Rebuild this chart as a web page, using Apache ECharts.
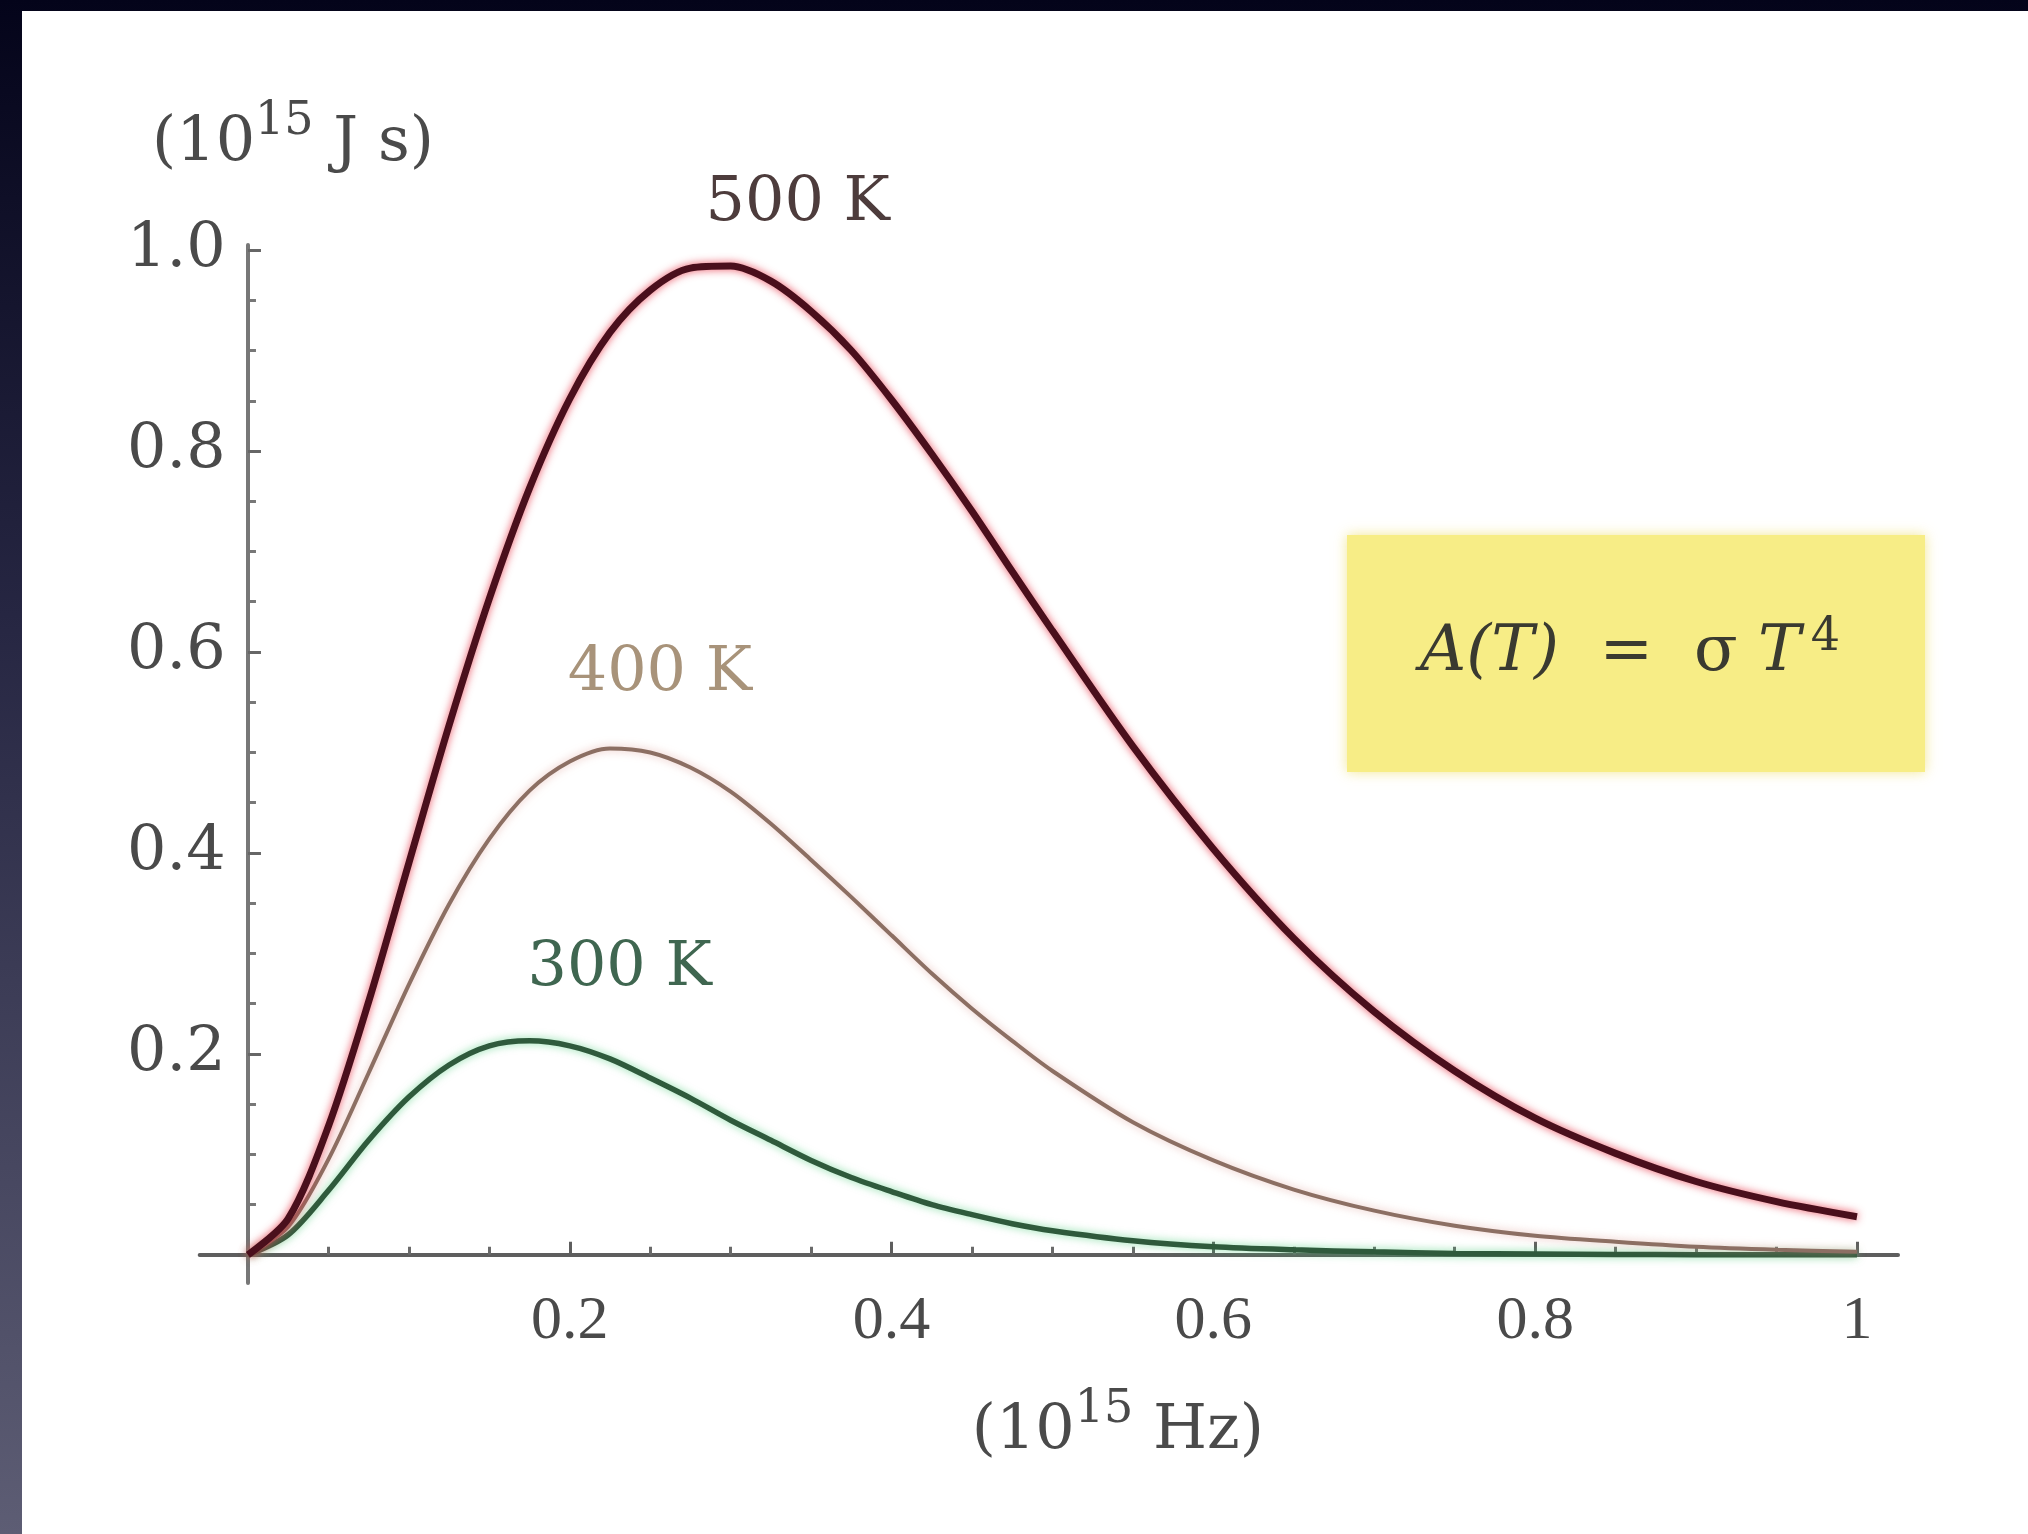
<!DOCTYPE html>
<html><head><meta charset="utf-8">
<script src="https://cdn.jsdelivr.net/npm/echarts@6/dist/echarts.min.js"></script>
<style>
html,body{margin:0;padding:0;width:2028px;height:1534px;overflow:hidden;background:linear-gradient(180deg,#04041a 0%,#262642 40%,#5d5d74 100%);}
#chart{position:absolute;left:22px;top:11px;width:2006px;height:1523px;background:#fff;}
</style></head><body><div id="chart"></div>
<script>
// frequency (10^15 Hz)
const xValues = [0,0.025,0.05,0.075,0.1,0.125,0.15,0.175,0.2,0.225,0.25,0.275,0.3,0.325,0.35,0.375,0.4,0.425,0.45,0.475,0.5,0.55,0.6,0.65,0.7,0.75,0.8,0.85,0.9,0.95,1.0];
const values500K = [0,0.036,0.128,0.252,0.39,0.527,0.653,0.763,0.852,0.918,0.96,0.982,0.984,0.969,0.939,0.9,0.851,0.797,0.74,0.68,0.621,0.506,0.404,0.315,0.242,0.183,0.136,0.101,0.073,0.053,0.038];
const values400K = [0,0.028,0.095,0.181,0.269,0.349,0.414,0.462,0.491,0.504,0.5,0.485,0.461,0.429,0.393,0.356,0.318,0.28,0.245,0.213,0.183,0.132,0.094,0.065,0.044,0.029,0.019,0.013,0.008,0.005,0.003];
const values300K = [0,0.02,0.064,0.114,0.157,0.189,0.208,0.213,0.208,0.195,0.176,0.156,0.134,0.114,0.094,0.077,0.063,0.05,0.04,0.031,0.024,0.014,0.008,0.005,0.003,0.0014,0.0008,0.0004,0.0002,0.0001,0.0001];
const seriesNames = ['500 K','400 K','300 K'];
// label anchor points (data units)
const labelAnchors = [[0.3,0.984],[0.256,0.578],[0.231,0.285]];
const xTickValues = [0.2,0.4,0.6,0.8,1];
const xTickLabels = ['0.2','0.4','0.6','0.8','1'];
const xMinorTicks = [0.05,0.1,0.15,0.25,0.3,0.35,0.45,0.5,0.55,0.65,0.7,0.75,0.85,0.9,0.95];
const yTickValues = [0.2,0.4,0.6,0.8,1.0];
const yTickLabels = ['0.2','0.4','0.6','0.8','1.0'];
const yMinorTicks = [0.05,0.1,0.15,0.25,0.3,0.35,0.45,0.5,0.55,0.65,0.7,0.75,0.85,0.9,0.95];

const FONT = '"DejaVu Serif", "Liberation Serif", serif';
const TFONT = '"Liberation Serif", "DejaVu Serif", serif';
const TXT = '#4a4a4a';
const chart = echarts.init(document.getElementById('chart'));
const toPairs = arr => xValues.map((x, i) => [x, arr[i]]);
const lineColors = ['#4a0f1c', '#8c6f63', '#2f5a3c'];
const glowColors = ['rgba(230,40,60,0.8)', 'rgba(220,150,140,0.6)', 'rgba(60,200,110,0.6)'];
const lineWidths = [7, 4, 5.5];
const labelColors = ['#4d3c3c', '#a8937a', '#3f6650'];
const labelOffsets = [[67, -62], [0, 0], [0, 0]];
const allValues = [values500K, values400K, values300K];

const axisLineStyle = {color: '#5e5e5e', width: 4};
const supRich = (size, supSize, lh, supLh) => ({
  p: {fontFamily: FONT, fontSize: size, color: TXT, lineHeight: lh, verticalAlign: 'bottom'},
  s: {fontFamily: FONT, fontSize: supSize, color: TXT, lineHeight: supLh, verticalAlign: 'top'}
});

chart.setOption({
  animation: false,
  backgroundColor: '#ffffff',
  grid: {left: 177.7, top: 234, width: 1698.3, height: 1038, outerBoundsMode: 'none'},
  xAxis: [{
    type: 'value', min: -0.03, max: 1.0255, position: 'bottom',
    axisLine: {show: true, onZero: true, lineStyle: axisLineStyle},
    splitLine: {show: false},
    axisTick: {show: true, inside: true, length: 13, customValues: xTickValues, lineStyle: {color: '#5e5e5e', width: 3}},
    axisLabel: {customValues: xTickValues, margin: 8, fontFamily: TFONT, fontSize: 62, color: TXT,
      formatter: v => xTickLabels[xTickValues.findIndex(t => Math.abs(t - v) < 1e-9)]},
    name: '{p|(10}{s|15}{p| Hz)}', nameLocation: 'middle', nameGap: 104,
    nameTextStyle: {padding: [0, 0, 0, 138], rich: supRich(62, 46, 76, 40)}
  }, {
    type: 'value', min: -0.03, max: 1.0255, position: 'bottom',
    axisLine: {show: false, onZero: true},
    splitLine: {show: false},
    axisTick: {show: true, inside: true, length: 8, customValues: xMinorTicks, lineStyle: {color: '#6a6a6a', width: 3}},
    axisLabel: {show: false}
  }],
  yAxis: [{
    type: 'value', min: -0.028, max: 1.005, position: 'left',
    axisLine: {show: true, onZero: true, lineStyle: {color: '#777', width: 4}},
    splitLine: {show: false},
    axisTick: {show: true, inside: true, length: 13, customValues: yTickValues, lineStyle: {color: '#666', width: 3}},
    axisLabel: {customValues: yTickValues, margin: -26, fontFamily: FONT, fontSize: 62, color: TXT,
      formatter: v => yTickLabels[yTickValues.findIndex(t => Math.abs(t - v) < 1e-9)]},
    name: '{p|(10}{s|15}{p| J s)}', nameLocation: 'end', nameGap: 70,
    nameTextStyle: {align: 'center', padding: [0, 0, 0, 90], rich: supRich(62, 46, 76, 40)}
  }, {
    type: 'value', min: -0.028, max: 1.005, position: 'left',
    axisLine: {show: false, onZero: true},
    splitLine: {show: false},
    axisTick: {show: true, inside: true, length: 8, customValues: yMinorTicks, lineStyle: {color: '#777', width: 3}},
    axisLabel: {show: false}
  }],
  series: allValues.map((vals, i) => ({
    name: seriesNames[i], type: 'line', xAxisIndex: 0, yAxisIndex: 0,
    data: toPairs(vals), smooth: 0.3, showSymbol: false, z: 5 - i,
    lineStyle: {color: lineColors[i], width: lineWidths[i], shadowColor: glowColors[i], shadowBlur: 8},
    markPoint: {
      symbol: 'circle', symbolSize: 1, itemStyle: {color: 'rgba(0,0,0,0)'},
      label: {show: true, position: 'inside', offset: labelOffsets[i], formatter: seriesNames[i],
        fontFamily: FONT, fontSize: 62, color: labelColors[i]},
      data: [{coord: labelAnchors[i]}]
    }
  })),
  graphic: [
    {type: 'rect', left: 1325, top: 524, shape: {width: 578, height: 237},
     style: {fill: '#f7ed86', shadowColor: 'rgba(240,225,120,0.8)', shadowBlur: 12}, z: 1},
    {type: 'text', x: 1608, y: 639, z: 2,
     style: {text: '{i|A(T)}{n|  =  σ }{i|T}{s|4}', align: 'center', verticalAlign: 'middle',
       rich: {
         i: {fontFamily: FONT, fontStyle: 'italic', fontSize: 64, fill: '#3a3a30', lineHeight: 70, verticalAlign: 'bottom'},
         n: {fontFamily: FONT, fontSize: 64, fill: '#3a3a30', lineHeight: 70, verticalAlign: 'bottom'},
         s: {fontFamily: FONT, fontSize: 46, fill: '#3a3a30', lineHeight: 40, verticalAlign: 'top', padding: [0, 0, 0, 10]}
       }}}
  ]
});
</script></body></html>
